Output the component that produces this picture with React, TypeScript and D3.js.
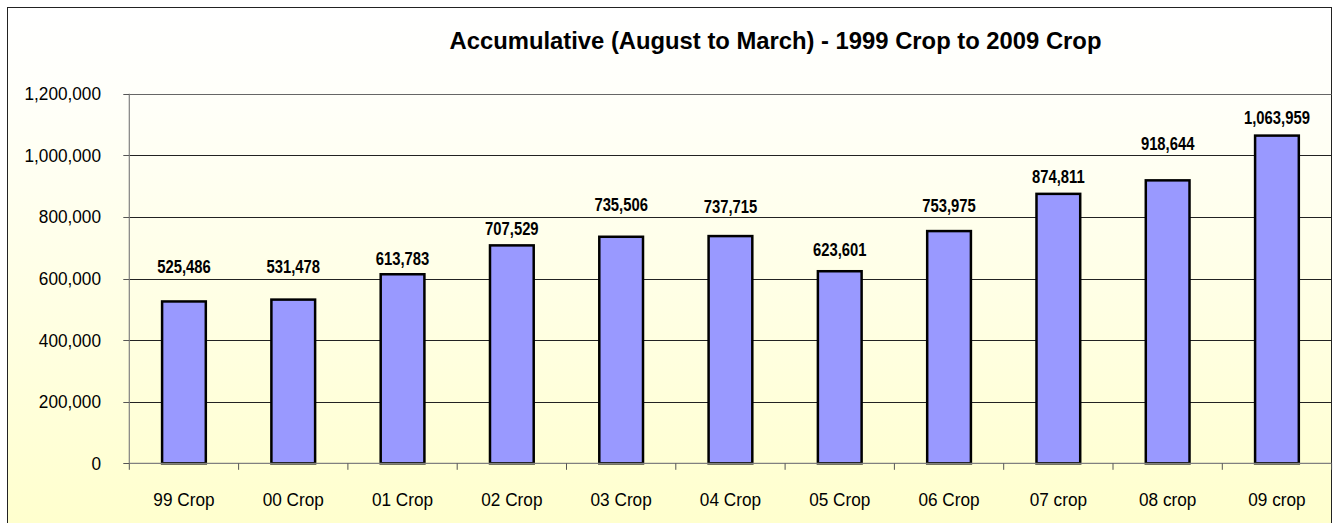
import React from "react";
import * as d3 from "d3";

const categories = ["99 Crop", "00 Crop", "01 Crop", "02 Crop", "03 Crop", "04 Crop", "05 Crop", "06 Crop", "07 crop", "08 crop", "09 crop"];
const values = [525486, 531478, 613783, 707529, 735506, 737715, 623601, 753975, 874811, 918644, 1063959];
const yTicks = [0, 200000, 400000, 600000, 800000, 1000000, 1200000];
const title = "Accumulative (August to March) - 1999 Crop to 2009 Crop";
// manual label placement (px above bar top) as in the reference
const labelLift = [35, 33, 16, 17, 32, 30, 22, 26, 17, 37, 18];

const W = 1333;
const H = 523;
const plot = { left: 129.3, right: 1331.6, top: 93.7, bottom: 463.3 };

export default function App() {
  const x = d3.scaleBand<string>().domain(categories).range([plot.left, plot.right]).paddingInner(0.6).paddingOuter(0.3);
  const y = d3.scaleLinear().domain([0, 1200000]).range([plot.bottom, plot.top]);
  const fmt = d3.format(",");
  const step = (plot.right - plot.left) / categories.length;
  const font = "'Liberation Sans', Arial, sans-serif";

  return (
    <div style={{ position: "absolute", left: 0, top: 0 }}>
      <svg width={W} height={H} style={{ display: "block" }}>
        <defs>
          <linearGradient id="bg" x1="0" y1="0" x2="0" y2="1">
            <stop offset="0" stopColor="#FFFFFF" />
            <stop offset="0.15" stopColor="#FFFFFA" />
            <stop offset="1" stopColor="#FFFFCC" />
          </linearGradient>
        </defs>
        <rect x={7.5} y={7.5} width={1324} height={H + 10} fill="url(#bg)" stroke="#222" strokeWidth={1} />
        <text x={775.5} y={49} textAnchor="middle" fontFamily={font} fontWeight="bold" fontSize={23.8} fill="#000">
          {title}
        </text>
        {/* gridlines */}
        {yTicks.filter((t) => t > 0).map((t) => (
          <line key={t} x1={plot.left} x2={plot.right} y1={Math.round(y(t)) + 0.5} y2={Math.round(y(t)) + 0.5} stroke={t === 1200000 ? "#666" : "#222"} strokeWidth={1} />
        ))}
        {/* y axis */}
        <line x1={plot.left} x2={plot.left} y1={plot.top} y2={plot.bottom} stroke="#808080" strokeWidth={1.2} />
        {yTicks.map((t) => (
          <g key={"yt" + t}>
            <line x1={plot.left - 6} x2={plot.left} y1={Math.round(y(t)) + 0.5} y2={Math.round(y(t)) + 0.5} stroke="#555" strokeWidth={1} />
            <text transform={`translate(101,${y(t)}) scale(0.93,1)`} dy="0.35em" textAnchor="end" fontFamily={font} fontSize={18.5} fill="#000">
              {fmt(t)}
            </text>
          </g>
        ))}
        {/* bars */}
        {values.map((v, i) => (
          <rect key={"b" + i} x={x(categories[i])} y={y(v)} width={x.bandwidth()} height={y(0) - y(v)} fill="#9999FF" stroke="#000" strokeWidth={2.5} />
        ))}
        {/* x axis */}
        <line x1={plot.left} x2={plot.right} y1={plot.bottom} y2={plot.bottom} stroke="#808080" strokeWidth={1.2} />
        {d3.range(categories.length + 1).map((k) => (
          <line key={"xt" + k} x1={plot.left + k * step} x2={plot.left + k * step} y1={plot.bottom} y2={plot.bottom + 6.5} stroke="#555" strokeWidth={1} />
        ))}
        {categories.map((c) => (
          <text key={"xl" + c} transform={`translate(${(x(c) as number) + x.bandwidth() / 2},505.5) scale(0.93,1)`} textAnchor="middle" fontFamily={font} fontSize={18.5} fill="#000">
            {c}
          </text>
        ))}
        {/* data labels */}
        {values.map((v, i) => {
          const cx = (x(categories[i]) as number) + x.bandwidth() / 2;
          const cy = y(v) - labelLift[i];
          return (
            <text key={"dl" + i} transform={`translate(${cx},${cy}) scale(0.8,1)`} dy="0.35em" textAnchor="middle" fontFamily={font} fontWeight="bold" fontSize={18.5} fill="#000">
              {fmt(v)}
            </text>
          );
        })}
      </svg>
    </div>
  );
}
